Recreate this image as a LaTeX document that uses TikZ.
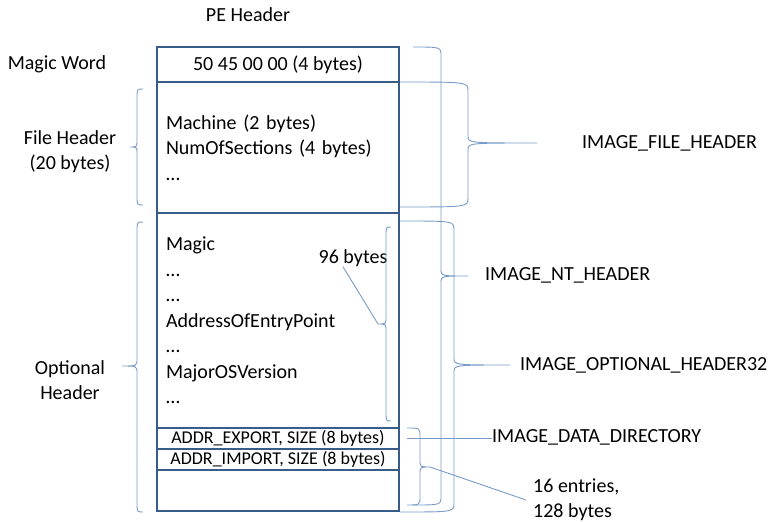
\documentclass[tikz,border=0pt]{standalone}
\usepackage{fontspec}
\setmainfont{Carlito}
\usetikzlibrary{positioning}
\definecolor{FrameBlue}{RGB}{56,93,138}
\definecolor{BraceBlue}{RGB}{120,155,200}

\tikzset{
  field/.style={draw=FrameBlue,line width=2.4pt,outer sep=0pt,
    minimum width=242pt,inner xsep=9pt,font=\fontsize{20}{25.5}\selectfont},
  entry/.style={field,inner ysep=0pt,minimum height=21pt,
    font=\fontsize{18}{20}\selectfont},
  note/.style={inner sep=0pt,align=center,font=\fontsize{20}{25}\selectfont},
  brace line/.style={BraceBlue,line width=0.9pt}
}

% curly brace: tip name, arm x, spine x, tip x, top y, tip y, bottom y
\newcommand{\hdrbrace}[7]{%
  \draw[brace line] (#2,#5) .. controls (#3,#5) .. (#3,#5+9)
    -- (#3,#6-7) .. controls (#3,#6) .. (#4,#6) coordinate (#1)
    .. controls (#3,#6) .. (#3,#6+7)
    -- (#3,#7-9) .. controls (#3,#7) .. (#2,#7);
}

\begin{document}
\begin{tikzpicture}[x=1pt,y=-1pt]
  \useasboundingbox (0,0) rectangle (780,522);

  % the header, row by row
  \node[field,minimum height=35pt] (magic) at (278,64.5) {50 45 00 00 (4 bytes)};
  \node[field,minimum height=131pt,text width=224pt,align=left,below=0pt of magic]
    (filehdr) {Machine (2 bytes)\\NumOfSections (4 bytes)\\…};
  \node[field,minimum height=215pt,text width=224pt,align=left,below=0pt of filehdr]
    (opthdr) {Magic\\…\\…\\AddressOfEntryPoint\\…\\MajorOSVersion\\…};
  \node[entry,below=0pt of opthdr] (export) {ADDR\_EXPORT, SIZE (8 bytes)};
  \node[entry,below=0pt of export] (import) {ADDR\_IMPORT, SIZE (8 bytes)};
  \node[field,minimum height=41pt,below=0pt of import] (rest) {};

  % labels on the left
  \node[note] (pehdr) at (248,15) {PE Header};
  \node[note] (magicword) at (57,64) {Magic Word};
  \node[note] (filelbl) at (70,152) {File Header\\(20 bytes)};
  \node[note] (optlbl) at (70,380) {Optional\\Header};

  % structure names on the right
  \node[note,anchor=west] (filetype) at (582,143) {IMAGE\_FILE\_HEADER};
  \node[note,anchor=west] (nttype) at (485,275) {IMAGE\_NT\_HEADER};
  \node[note,anchor=west] (opttype) at (520,365) {IMAGE\_OPTIONAL\_HEADER32};
  \node[note,anchor=west] (dirtype) at (492,437) {IMAGE\_DATA\_DIRECTORY};
  \node[note,anchor=west,align=left] (entries) at (533,500) {16 entries,\\128 bytes};
  \node[note] (size96) at (353,258) {96 bytes};

  % braces
  \hdrbrace{filetip}{400}{468}{537}{82}{143}{207}
  \hdrbrace{nttip}{413}{441}{468}{47}{276}{505}
  \hdrbrace{opttip}{400}{454}{510}{221}{365}{512}
  \hdrbrace{dirtip}{407}{420}{430}{428}{467}{505}
  \hdrbrace{bytetip}{391}{386}{378}{227}{324}{421}
  \hdrbrace{fileleft}{143}{137}{130}{89}{147}{205}
  \hdrbrace{optleft}{143}{137}{122}{222}{366}{512}

  % pointers to the labels
  \draw[brace line] ([xshift=8pt]export.east) -- (export.east -| dirtype.west);
  \draw[brace line] (dirtip) -- ([xshift=-7pt]entries.west);
  \draw[brace line] (bytetip) -- ([xshift=-10pt]size96.south);
\end{tikzpicture}
\end{document}
